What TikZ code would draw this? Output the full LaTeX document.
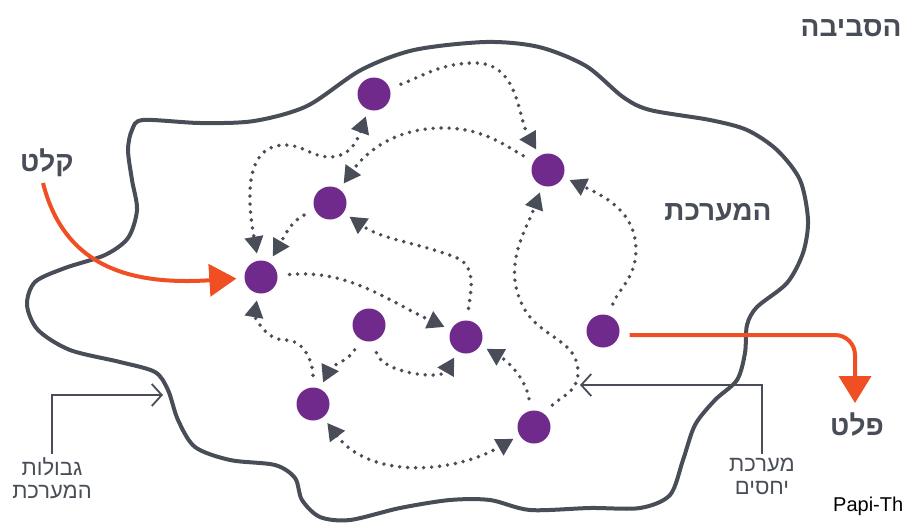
\documentclass[tikz,border=0pt]{standalone}
\usepackage{fontspec}
\setmainfont{Liberation Sans}
\newfontfamily\hebfont[Script=Hebrew]{Liberation Sans}
\TeXXeTstate=1
\usetikzlibrary{arrows.meta}
\definecolor{slate}{HTML}{484D58}
\definecolor{plum}{HTML}{6F2A8B}
\definecolor{flame}{HTML}{F04E23}
\newcommand{\hebtxt}[1]{\hebfont\beginR #1\endR}
\begin{document}
\begin{tikzpicture}[x=1pt,y=1pt,
  elem/.style={circle,fill=plum,minimum size=33pt,inner sep=0pt},
  rel/.style={slate,line width=3.9pt,line cap=round,dash pattern=on 0pt off 8pt,
    -{Triangle[length=17pt,width=18pt]},shorten <=12pt,shorten >=7pt},
  relboth/.style={rel,{Triangle[length=17pt,width=18pt]}-{Triangle[length=17pt,width=18pt]},shorten <=7pt},
  flow/.style={flame,line width=4pt,-{Triangle[length=27pt,width=32pt]}},
  callout/.style={slate,line width=1.8pt,-{Straight Barb[length=10pt,width=22pt]}},
  biglabel/.style={text=slate,font=\fontsize{28}{30}\selectfont\bfseries},
  smalllabel/.style={text=slate,font=\fontsize{22}{23}\selectfont,align=center}]
	\useasboundingbox (0,0) rectangle (907,-522);
	% system boundary
	\draw[slate,line width=4pt] plot[smooth cycle] coordinates {
	  (143,-120) (200,-123) (254,-121) (307,-106) (361,-70) (414,-50) (486,-42)
	  (539,-47) (586,-66) (623,-97) (650,-110) (710,-120) (747,-130) (777,-150)
	  (800,-180) (808,-220) (803,-253) (787,-283) (757,-307) (747,-325) (745,-353)
	  (737,-380) (715,-400) (695,-425) (683,-460) (670,-495) (640,-508) (590,-508)
	  (530,-510) (490,-500) (450,-500) (400,-508) (350,-520) (320,-517) (302,-500)
	  (295,-478) (275,-465) (230,-460) (195,-447) (178,-420) (168,-390) (155,-372)
	  (120,-362) (70,-350) (38,-330) (27,-305) (35,-282) (65,-268) (105,-255)
	  (128,-238) (137,-210) (132,-180) (128,-150) (132,-130)};
	% elements
	\node[elem] (A) at (374,-94) {};
	\node[elem] (B) at (548,-170) {};
	\node[elem] (C) at (330,-203) {};
	\node[elem] (D) at (261,-277) {};
	\node[elem] (E) at (369,-325) {};
	\node[elem] (F) at (466,-337) {};
	\node[elem] (G) at (313,-404) {};
	\node[elem] (H) at (534,-427) {};
	\node[elem] (I) at (603,-331) {};
	% relations
	\draw[rel] (A) to[out=20,in=180] (475,-63) to[out=0,in=120] (B);
	\draw[rel] (B) to[out=150,in=0] (443,-128) to[out=180,in=55] (C);
	\draw[relboth] (A) to[out=-110,in=0] (330,-157) to[out=180,in=0] (285,-145) to[out=180,in=100] (D);
	\draw[rel] (C) to[out=205,in=60] (D);
	\draw[rel] (D) to[out=5,in=155] (F);
	\draw[rel] (F) to[out=85,in=-20] (455,-257) to[out=160,in=-35] (C);
	\draw[rel] (H) to[out=50,in=-90] (578,-372) to[out=90,in=-60] (525,-310) to[out=120,in=-110] (B);
	\draw[rel] (I) to[out=70,in=-90] (636,-250) to[out=90,in=-25] (B);
	\draw[rel] (G) to[out=90,in=0] (285,-340) to[out=180,in=-100] (D);
	\draw[rel] (E) to[out=240,in=65] (G);
	\draw[rel] (E) to[out=-75,in=-120] (F);
	\draw[rel] (H) to[out=100,in=-30] (F);
	\draw[relboth] (G) to[out=-53,in=-150] (H);
	% input / output
	\node[biglabel] (inlbl) at (47,-163) {\hebtxt{קלט}};
	\coordinate (in) at (43,-183);
	\draw[flow,shorten >=8pt] (in) .. controls (65,-270) and (135,-285) .. (D);
	\node[biglabel] (outlbl) at (857,-425) {\hebtxt{פלט}};
	\coordinate (out) at (855,-403);
	\draw[flow,rounded corners=20pt,shorten <=10pt] ([yshift=-4pt]I.east) -| (out);
	% labels
	\node[biglabel,anchor=east] (env) at (905,-28) {\hebtxt{הסביבה}};
	\node[biglabel] (sys) at (718,-212) {\hebtxt{המערכת}};
	\node[smalllabel] (bdlbl) at (52,-478) {\hebtxt{גבולות}\\\hebtxt{המערכת}};
	\coordinate (bd) at (163,-395);
	\draw[callout] (bdlbl.north) |- (bd);
	\node[smalllabel] (rellbl) at (762,-476) {\hebtxt{מערכת}\\\hebtxt{יחסים}};
	\coordinate (rl) at (580,-385);
	\draw[callout] (rellbl.north) |- (rl);
	\node[anchor=west,font=\fontsize{20}{22}\selectfont,inner sep=1pt] (src) at (832,-506) {Papi-Th};
\end{tikzpicture}
\end{document}
